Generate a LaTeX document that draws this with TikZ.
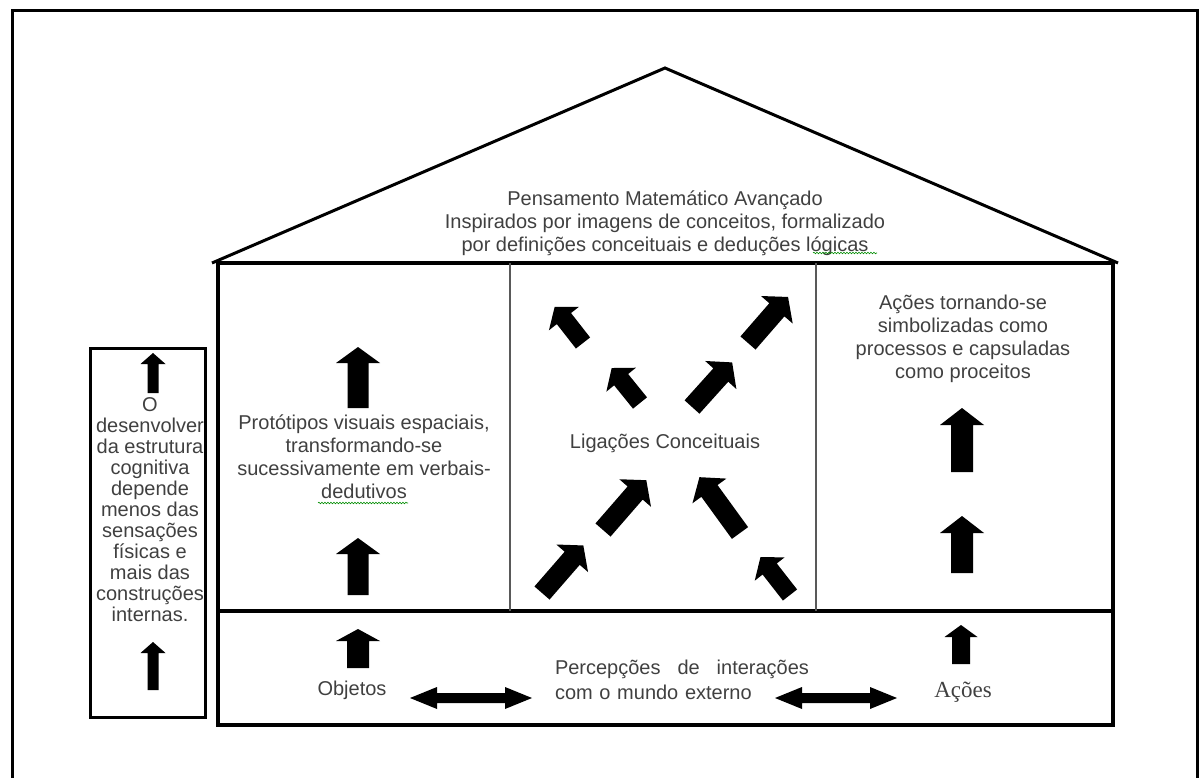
\documentclass[tikz,border=0pt]{standalone}
\usepackage{fontspec}
\setmainfont{Liberation Sans}
\newfontfamily\timesfont{Liberation Serif}
\usetikzlibrary{decorations.pathmorphing}

\begin{document}
\begin{tikzpicture}[x=1pt,y=-1pt,
    txt/.style={text=black!75, align=center, inner sep=0pt, font=\fontsize{20}{23}\selectfont},
    heavy/.style={line width=4pt},
    wall/.style={line width=1.5pt, black!65},
    squiggle/.style={green!55!black, line width=0.6pt, decorate,
      decoration={snake, amplitude=0.8pt, segment length=3pt}}]
    \useasboundingbox (0,0) rectangle (1202,778);
    \clip (0,0) rectangle (1202,778);
    % Draw the frame, the roof and the walls of the house
    \draw[line width=3pt] (12,790) -- (12,11) -- (1197,11) -- (1197,790);
    \draw[line width=3pt] (212,263) -- (665,68) -- (1118,263);
    \draw[heavy] (218,263) rectangle (1113,725);
    \draw[heavy] (218,611) -- (1113,611);
    \draw[wall] (510,263) -- (510,611);
    \draw[wall] (816,263) -- (816,611);
    \draw[line width=3pt] (90,348) rectangle (205,717);
    % Label the rooms
    \node[txt] (pma) at (665,223) {Pensamento Matemático Avançado\\Inspirados por imagens de conceitos, formalizado\\por definições conceituais e deduções lógicas};
    \node[txt] (prot) at (364,457) {Protótipos visuais espaciais,\\transformando-se\\sucessivamente em verbais-\\dedutivos};
    \node[txt] (lig) at (665,443) {Ligações Conceituais};
    \node[txt] (simb) at (963,339) {Ações tornando-se\\simbolizadas como\\processos e capsuladas\\como proceitos};
    \node[txt, align=left, text width=254pt, font=\fontsize{20}{25}\selectfont] (perc) at (682,680)
      {\hbox to \linewidth{Percepções\hfil de\hfil interações}\\com o mundo externo};
    \node[txt] (obj) at (352,690) {Objetos};
    \node[txt, font=\timesfont\fontsize{23}{26}\selectfont] (acao) at (963,692) {Ações};
    \node[txt, font=\fontsize{20}{21}\selectfont] (desenv) at (150,510) {O\\desenvolver\\da estrutura\\cognitiva\\depende\\menos das\\sensações\\físicas e\\mais das\\construções\\internas.};
    \draw[squiggle] (813,253) -- (877,253);
    \draw[squiggle] (318,503) -- (408,503);
    % Draw the block arrows: base x/base y/angle/length/head/shaft/tip
    \foreach \x/\y/\a/\l/\h/\w/\t in {358/408/90/61/22/10.5/16, 358/595/90/57/22/10.5/16,
      358/668/90/39/22/11/12, 962/472/90/64/22/11/17, 962/573/90/57/22/11/17,
      961/664/90/39/16.5/9/12, 153/393/90/40/12.5/5.5/11, 153/690/90/48/12.5/5.5/11,
      583/343/128/46/19/9/15, 640/403/129/45/19/9/15, 748/343/49/61/21/10/17,
      692/407/48/60/21/10/17, 542/593/49/63/21/10/17, 603/530/49/66/21/10/17,
      740/533/126/69/21/10/17, 790/595/128/48/19/9/15}{
      \fill[shift={(\x,\y)}, rotate=\a] (0,-\w) -- ({\l-\t},-\w) -- ({\l-\t},-\h) -- (\l,0)
        -- ({\l-\t},\h) -- ({\l-\t},\w) -- (0,\w) -- cycle;
    }
    % Draw the double arrows in the ground floor
    \foreach \a/\b in {410/532, 775/897}{
      \fill (\a,698) -- ({\a+27},687) -- ({\a+27},693) -- ({\b-27},693) -- ({\b-27},687) -- (\b,698)
        -- ({\b-27},709) -- ({\b-27},703) -- ({\a+27},703) -- ({\a+27},709) -- cycle;
    }
\end{tikzpicture}
\end{document}
